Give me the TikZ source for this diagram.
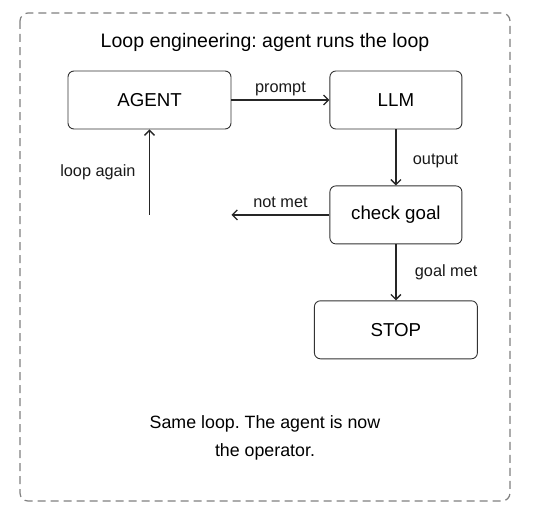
\documentclass[tikz,border=0pt]{standalone}
\usepackage{fontspec}
\setmainfont{Liberation Sans}
\usetikzlibrary{arrows.meta,positioning}
\frenchspacing

\begin{document}
\begin{tikzpicture}[
      x=1pt, y=1pt,
      box_node/.style={
         rectangle,
         rounded corners=6pt,
         draw=black!80,
         line width=0.9pt,
         fill=white,
         inner sep=0pt,
         minimum height=58pt,
         font=\fontsize{18.7}{22}\selectfont},
      arrow_black/.style={
         -{Straight Barb[length=5pt,width=10pt]},
         line width=1.3pt,
         draw=black!85,
         },
      edge_label/.style={
         font=\fontsize{16.3}{19}\selectfont,
         text=black!90,
         },
      frame_line/.style={
         draw=black!50,
         line width=1.2pt,
         dash pattern=on 8pt off 5pt,
         rounded corners=8pt,
         }
]
      \useasboundingbox (0,0) rectangle (534,-519);
      \draw[frame_line] (20,-13) rectangle (510,-501);

      %title
      \node[font=\fontsize{19.5}{23}\selectfont] (title) at (265,-42) {Loop engineering: agent runs the loop};

      \node[box_node,minimum width=163pt] (agent) at (149.5,-100) {AGENT};
      \node[box_node,minimum width=132pt,right=98pt of agent] (llm) {LLM};
      \node[box_node,minimum width=132pt,below=56pt of llm] (check) {check goal};
      \node[box_node,minimum width=163pt,below=56pt of check] (stop) {STOP};

      \coordinate (miss) at (agent.east |- check.west);
      \coordinate (back) at (agent.south |- check.west);

    \foreach \i/\j/\txt/\p/\d/\s in {% start node/end node/text/side/gap/pos
      agent/llm/prompt/above/0pt/0.5,
      llm/check/output/right/13pt/0.57,
      check/miss/not met/above/3pt/0.5,
      back/agent/loop again/left/10pt/0.5,
      check/stop/goal met/right/15pt/0.5}
    \draw [arrow_black] (\i) -- node[edge_label,\p=\d,pos=\s] {\txt} (\j);

      %note
      \node[font=\fontsize{17.8}{28}\selectfont,align=center] (note) at (265,-438) {Same loop. The agent is now\\the operator.};

\end{tikzpicture}
\end{document}
